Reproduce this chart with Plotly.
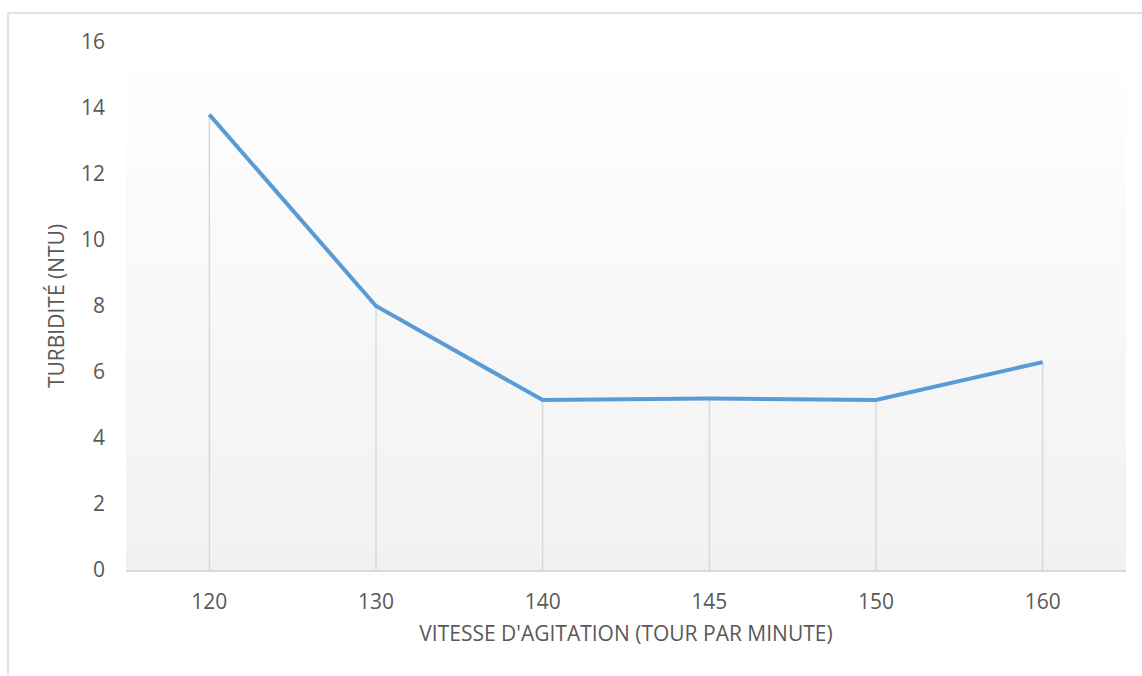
import plotly.graph_objects as go

# Agitation speeds (rpm) and measured turbidity (NTU)
vitesse = ["120", "130", "140", "145", "150", "160"]
turbidite = [13.8, 8.0, 5.15, 5.2, 5.15, 6.3]

y_ticks = [0, 2, 4, 6, 8, 10, 12, 14, 16]

FONT = "Open Sans"
TXT = "#595959"
GRID = "#d9d9d9"

fig = go.Figure()

# Soft vertical gradient behind the plot area (white at top, light gray at bottom),
# drawn on a hidden unit axis pair underneath the data axes
fig.add_trace(go.Scatter(
    x=[0, 1, 1, 0, 0], y=[0, 0, 1, 1, 0],
    xaxis="x", yaxis="y", mode="lines", line=dict(width=0),
    fill="toself",
    fillgradient=dict(type="vertical",
                      colorscale=[[0, "#f1f1f1"], [1, "#ffffff"]]),
    hoverinfo="skip", showlegend=False,
))

# Drop lines from each point down to the category axis
drop_x, drop_y = [], []
for cat, val in zip(vitesse, turbidite):
    drop_x += [cat, cat, None]
    drop_y += [0, val, None]
fig.add_trace(go.Scatter(
    x=drop_x, y=drop_y, xaxis="x2", yaxis="y2", mode="lines",
    line=dict(color=GRID, width=1.5),
    hoverinfo="skip", showlegend=False,
))

# Turbidity curve
fig.add_trace(go.Scatter(
    x=vitesse, y=turbidite, xaxis="x2", yaxis="y2", mode="lines",
    line=dict(color="#5b9bd5", width=4),
    showlegend=False,
))

W, H = 1142, 676
L, R, T, B = 126, 16, 42, 106
pw, ph = W - L - R, H - T - B


def px(x):
    return (x - L) / pw


def py(y):
    return (H - B - y) / ph


fig.update_layout(
    width=W, height=H,
    margin=dict(l=L, r=R, t=T, b=B),
    paper_bgcolor="white", plot_bgcolor="rgba(0,0,0,0)",
    font=dict(family=FONT, color=TXT, size=21),
    xaxis=dict(range=[0, 1], visible=False, fixedrange=True),
    yaxis=dict(range=[0, 1], visible=False, fixedrange=True),
    xaxis2=dict(
        overlaying="x", side="bottom",
        type="category", categoryorder="array", categoryarray=vitesse,
        range=[-0.5, len(vitesse) - 0.5],
        showgrid=False, zeroline=False,
        showline=True, linecolor=GRID, linewidth=1.5,
        ticks="", ticklabelstandoff=12,
        tickfont=dict(size=21, color=TXT),
        title=dict(text="VITESSE D'AGITATION (TOUR PAR MINUTE)",
                   font=dict(size=21, color=TXT), standoff=12),
    ),
    yaxis2=dict(
        overlaying="y", side="left",
        range=[0, 16], tickmode="array", tickvals=y_ticks,
        ticktext=[str(v) for v in y_ticks],
        showgrid=False, zeroline=False, showline=False,
        ticks="", ticklabelstandoff=20,
        tickfont=dict(size=21, color=TXT),
        title=dict(text="TURBIDITÉ (NTU)",
                   font=dict(size=21, color=TXT), standoff=10),
    ),
    shapes=[
        dict(type="line", xref="paper", yref="paper",
             x0=px(8), x1=px(1142), y0=py(13), y1=py(13),
             line=dict(color=GRID, width=1.5)),
        dict(type="line", xref="paper", yref="paper",
             x0=px(8), x1=px(8), y0=py(13), y1=py(676),
             line=dict(color=GRID, width=1.5)),
    ],
)

fig.write_html("out.html")
